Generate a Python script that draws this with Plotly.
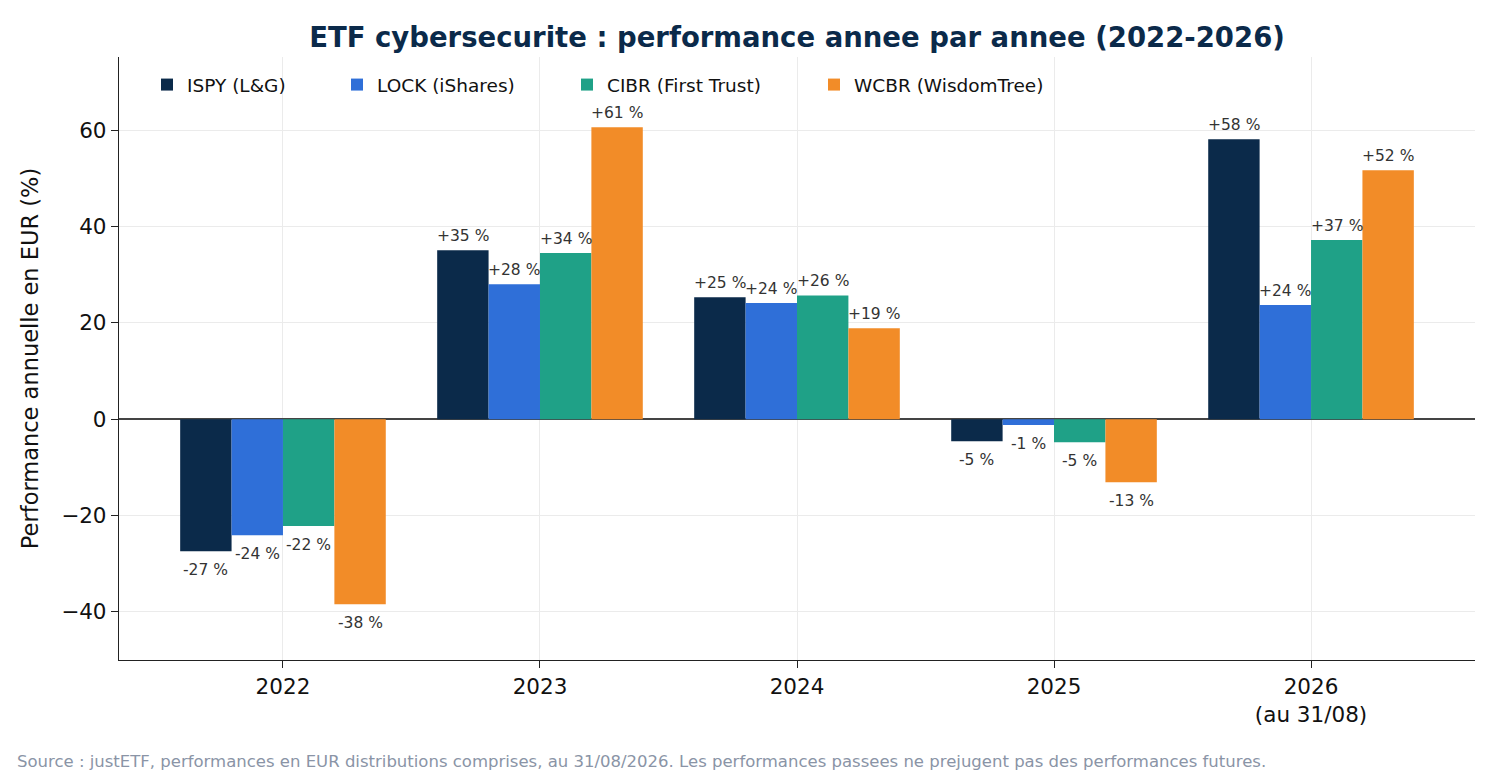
import plotly.graph_objects as go

years = ["2022", "2023", "2024", "2025", "2026"]
year_labels = ["2022", "2023", "2024", "2025", "2026<br>(au 31/08)"]
series_names = ["ISPY (L&G)", "LOCK (iShares)", "CIBR (First Trust)", "WCBR (WisdomTree)"]
ispy = [-27.4, 35.1, 25.3, -4.6, 58.1]
lock = [-24.1, 28.0, 24.1, -1.2, 23.7]
cibr = [-22.2, 34.5, 25.7, -4.8, 37.2]
wcbr = [-38.4, 60.6, 18.9, -13.1, 51.7]
colors = ["#0b2a4a", "#2f6fd8", "#1fa187", "#f28c28"]

W, H = 1492, 772          # page body has an 8px margin
L, R, T, B = 111, 25, 49, 120
PW, PH = W - L - R, H - T - B
BAR_W = 0.2

legend_x = [28, 218, 448, 695]   # px from plot left, one legend per series
legend_names = ["legend", "legend2", "legend3", "legend4"]

fig = go.Figure()
annotations = []
for i, (name, vals, col) in enumerate(zip(series_names, [ispy, lock, cibr, wcbr], colors)):
    fig.add_trace(go.Bar(
        x=years, y=vals, name=name, marker=dict(color=col, line=dict(width=0)),
        legend=legend_names[i], showlegend=True,
    ))
    for j, v in enumerate(vals):
        annotations.append(dict(
            x=j + (i - 1.5) * BAR_W, y=v, xref="x", yref="y",
            text=f"{v:+.0f} %", showarrow=False,
            yanchor="bottom" if v >= 0 else "top",
            yshift=3 if v >= 0 else -8,
            font=dict(size=15.5, color="#333333"),
        ))

layout_legends = {}
for k, lx in zip(legend_names, legend_x):
    layout_legends[k] = dict(
        orientation="h", x=lx / PW, y=0.985, xanchor="left", yanchor="top",
        font=dict(size=18.5, color="#111111"), bgcolor="rgba(0,0,0,0)", itemwidth=30,
    )

fig.update_layout(
    width=W, height=H, showlegend=True,
    barmode="group", bargap=0.2, bargroupgap=0,
    plot_bgcolor="white", paper_bgcolor="white",
    font=dict(family="DejaVu Sans", color="#111111"),
    margin=dict(l=L, r=R, t=T, b=B),
    title=dict(text="<b>ETF cybersecurite : performance annee par annee (2022-2026)</b>",
               x=789 / W, xanchor="center", y=1 - 29 / H, yanchor="middle",
               font=dict(size=27.5, color="#0b2a4a")),
    annotations=annotations,
    **layout_legends,
)
fig.update_xaxes(
    tickmode="array", tickvals=years, ticktext=year_labels,
    range=[-0.638, 4.638], showgrid=True, gridcolor="#ebebeb", gridwidth=1,
    showline=True, linecolor="#222222", linewidth=1.3, ticks="outside", ticklen=7,
    tickcolor="#222222", tickfont=dict(size=21.5, color="#111111"), zeroline=False,
)
fig.update_yaxes(
    range=[-50, 75.2], tickvals=[-40, -20, 0, 20, 40, 60],
    showgrid=True, gridcolor="#ebebeb", gridwidth=1,
    showline=True, linecolor="#222222", linewidth=1.3, ticks="outside", ticklen=7,
    tickcolor="#222222", tickfont=dict(size=21.5, color="#111111"),
    zeroline=True, zerolinecolor="#444444", zerolinewidth=1.5,
    title=dict(text="Performance annuelle en EUR (%)", font=dict(size=22.5, color="#111111"), standoff=16),
)
fig.add_annotation(
    text="Source : justETF, performances en EUR distributions comprises, au 31/08/2026. Les performances passees ne prejugent pas des performances futures.",
    xref="paper", yref="paper", x=(15 - 119) / PW, y=-(762 - 660) / PH, xanchor="left", yanchor="middle",
    showarrow=False, font=dict(size=16.5, color="#8a94a6"),
)
fig.write_html("out.html")
